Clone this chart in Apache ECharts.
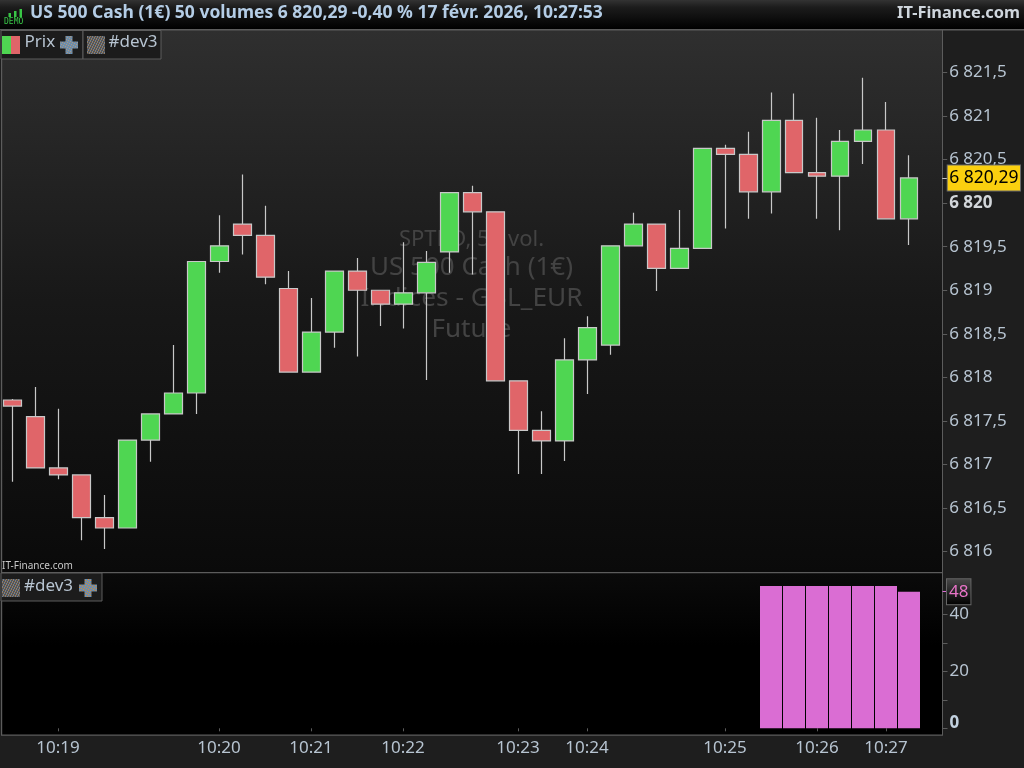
<!DOCTYPE html>
<html>
<head>
<meta charset="utf-8">
<style>html,body{margin:0;padding:0;background:#1e1e1e}#c{width:1024px;height:768px}</style>
<script src="https://cdn.jsdelivr.net/npm/echarts@6/dist/echarts.min.js"></script>
</head>
<body>
<div id="c"></div>
<script>
var categories = ['','','10:19','','','','','','','10:20','','','','10:21','','','','10:22','','','','','10:23','','','10:24','','','','','','10:25','','','','10:26','','','10:27','',''];
var opens  = [6817.74,6817.55,6816.96,6816.88,6816.39,6816.27,6817.28,6817.58,6817.82,6819.33,6819.76,6819.63,6819.02,6818.06,6818.52,6819.22,6819.00,6818.84,6818.97,6819.44,6820.12,6819.90,6817.96,6817.39,6817.27,6818.20,6818.37,6819.51,6819.76,6819.25,6819.48,6820.63,6820.56,6820.13,6820.95,6820.35,6820.31,6820.71,6820.84,6819.82];
var closes = [6817.67,6816.96,6816.88,6816.39,6816.27,6817.28,6817.58,6817.82,6819.33,6819.51,6819.63,6819.15,6818.06,6818.52,6819.22,6819.00,6818.84,6818.97,6819.32,6820.12,6819.90,6817.96,6817.39,6817.27,6818.20,6818.57,6819.51,6819.76,6819.25,6819.48,6820.63,6820.56,6820.13,6820.95,6820.35,6820.31,6820.71,6820.84,6819.82,6820.29];
var lows   = [6816.80,6816.96,6816.83,6816.13,6816.03,6816.27,6817.03,6817.58,6817.58,6819.20,6819.41,6819.07,6818.06,6818.06,6818.34,6818.24,6818.59,6818.56,6817.97,6819.20,6819.18,6817.96,6816.89,6816.89,6817.04,6817.81,6818.26,6819.51,6818.99,6819.25,6819.48,6819.71,6819.82,6819.88,6820.35,6819.82,6819.69,6820.45,6819.82,6819.52];
var highs  = [6817.75,6817.89,6817.64,6816.88,6816.65,6817.28,6817.58,6818.37,6819.33,6819.86,6820.33,6819.97,6819.22,6818.91,6819.22,6819.37,6819.00,6819.55,6819.45,6820.12,6820.20,6819.90,6817.96,6817.61,6818.45,6818.70,6819.51,6819.89,6819.76,6819.92,6820.63,6820.67,6820.82,6821.27,6821.26,6820.98,6820.84,6821.44,6821.16,6820.55];
var devValues = [null,null,null,null,null,null,null,null,null,null,null,null,null,null,null,null,null,null,null,null,null,null,null,null,null,null,null,null,null,null,null,null,null,50,50,50,50,50,50,48,null];
var priceTicks = [6816,6816.5,6817,6817.5,6818,6818.5,6819,6819.5,6820,6820.5,6821,6821.5];
var devTicks = [0,10,20,30,40];
var devLabels = [0,20,40];
var lastPrice = [6820.29];
var lastDev = [48];
var titleText = 'US 500 Cash (1€) 50 volumes 6 820,29 -0,40 % 17 févr. 2026, 10:27:53';
var watermark = ['SPTRD, 50 vol.','US 500 Cash (1€)','Indices - GBL_EUR','Future'];

var FONT = '"Noto Sans", sans-serif';
var LABEL = '#b7c4d1';
var GREEN = '#4fd652', RED = '#e06569', EDGE = '#c8c8c8', PINK = '#da6dd3', LINE = '#5c5c5c';

function fmtPrice(v){
  var s = Number.isInteger(v) ? String(v) : String(v).replace('.', ',');
  return s.charAt(0) + ' ' + s.slice(1);
}
function pattern(base, a, b){
  var c = document.createElement('canvas'); c.width = 5; c.height = 5;
  var g = c.getContext('2d');
  g.fillStyle = base; g.fillRect(0,0,5,5);
  [[0,0],[2,1],[4,2],[1,3],[3,4]].forEach(function(p){ g.fillStyle = a; g.fillRect(p[0],p[1],1,1); });
  [[3,0],[0,1],[2,2],[4,3],[1,4]].forEach(function(p){ g.fillStyle = b; g.fillRect(p[0],p[1],1,1); });
  return {image:c, repeat:'repeat'};
}
function vgrad(stops){ return new echarts.graphic.LinearGradient(0,0,0,1,stops.map(function(s){return {offset:s[0],color:s[1]};})); }
function rect(x,y,w,h,fill,z,stroke){ return {type:'rect',silent:true,z:z,shape:{x:x,y:y,width:w,height:h},style:{fill:fill,stroke:stroke||null,lineWidth:stroke?1:0}}; }
function txt(x,y,t,size,fill,z,opt){ opt=opt||{}; return {type:'text',silent:true,z:z,x:x,y:y,style:{text:t,fontFamily:opt.family||FONT,fontSize:size,fontWeight:opt.weight||'normal',fill:fill,align:opt.align||'left',verticalAlign:'middle'}}; }
function cross(x,y,fill,z){ return [rect(x,y+5.5,18,7,fill,z), rect(x+5.5,y,7,18,fill,z)]; }

var Z = 100;
var blue = pattern('#7d8b97','#5590c8','#9a9a98');
var orange = pattern('#7d8b97','#c98a48','#5590c8');
var grayDot = pattern('#565656','#6c8098','#9a7a58');
var elements = [
  rect(1,30,941.5,542,vgrad([[0,'#2f2f2f'],[0.5,'#181818'],[1,'#0a0a0a']]),-5),
  rect(1,573,941.5,162,vgrad([[0,'#0a0a0a'],[0.45,'#000000'],[1,'#000000']]),-5),
  rect(0,0,1024,29,vgrad([[0,'#333333'],[0.25,'#1c1c1c'],[1,'#000000']]),-5),
  rect(0,29,1024,1.5,LINE,-4),
  rect(1,572,942,1.2,LINE,-4),
  rect(1,734.6,942,1.2,LINE,-4),
  rect(1,30,1.2,705,LINE,-4),
  rect(942,30,1,705,LINE,-4)
];
watermark.forEach(function(t,i){
  elements.push(txt(471.5,[239.5,268,299,330][i],t,[22,26,26.3,26][i],'#434343',1,{align:'center'}));
});
elements = elements.concat([
  // header
  txt(30,13,titleText,17.5,'#b4cde6',Z,{weight:'bold'}),
  txt(1020,13,'IT-Finance.com',16.4,'#cfd6dd',Z,{weight:'bold',align:'right'}),
  rect(8.5,13,2.5,4,'#38c646',Z), rect(14,11,2.5,6,'#38c646',Z), rect(19.5,9,2.5,8,'#38c646',Z),
  txt(4,21.5,'DEMO',8,'#38c646',Z,{family:'"DejaVu Sans Mono", monospace'}),
  // main legend
  rect(1,30.5,82,28.5,'#1c1c1c',Z,LINE),
  rect(83,30.5,78,28.5,'#1c1c1c',Z,LINE),
  rect(2,36,9,18,GREEN,Z+1), rect(11,36,9,18,RED,Z+1),
  txt(24.5,42.5,'Prix',17,'#b7c4d1',Z+1),
  rect(87,36,18,18,grayDot,Z+1),
  txt(108.5,42.5,'#dev3',17,'#b7c4d1',Z+1),
  // indicator legend
  rect(1,573,101,28,'#1c1c1c',Z,LINE),
  rect(2,579,18,18,grayDot,Z+1),
  txt(24,586,'#dev3',17,'#b7c4d1',Z+1),
  txt(2,566,'IT-Finance.com',10,'#c8c8c8',Z)
]);
elements = elements.concat(cross(60,36,blue,Z+1)).concat(cross(79,579,orange,Z+1));

var candleData = opens.map(function(o,i){ return [o,closes[i],lows[i],highs[i]]; });
var xBase = {type:'category',data:categories,boundaryGap:true,axisPointer:{show:false}};

var chart = echarts.init(document.getElementById('c'),null,{width:1024,height:768,renderer:'canvas'});
chart.setOption({
  animation:false,
  backgroundColor:'#1e1e1e',
  textStyle:{fontFamily:FONT},
  graphic:{elements:elements},
  grid:[
    {left:1,top:30,width:943,height:542,containLabel:false},
    {left:0.5,top:573,width:943,height:162,containLabel:false}
  ],
  xAxis:[
    Object.assign({},xBase,{gridIndex:0,axisLine:{show:false},axisTick:{show:false},axisLabel:{show:false},splitLine:{show:false}}),
    Object.assign({},xBase,{gridIndex:1,
      axisLine:{show:false},
      axisTick:{show:true,length:3,alignWithLabel:true,interval:function(i,v){return v!=='';},lineStyle:{color:LINE}},
      axisLabel:{show:true,interval:function(i,v){return v!=='';},color:LABEL,fontSize:17,fontFamily:FONT,margin:5,hideOverlap:false},
      splitLine:{show:false}})
  ],
  yAxis:[
    {type:'value',gridIndex:0,position:'right',offset:-1.5,min:6815.765,max:6821.988,
      axisLine:{show:false},
      axisTick:{show:true,length:5,customValues:priceTicks,lineStyle:{color:LINE}},
      splitLine:{show:false},
      axisLabel:{show:true,customValues:priceTicks,margin:7,hideOverlap:false,showMinLabel:true,showMaxLabel:true,color:LABEL,fontSize:17,fontFamily:FONT,
        formatter:function(v){ return v===6820 ? '{b|'+fmtPrice(v)+'}' : fmtPrice(v); },
        rich:{b:{fontWeight:'bold',color:'#d2d6da',fontSize:17,fontFamily:FONT}}}},
    {type:'value',gridIndex:0,position:'right',offset:-1.5,min:6815.765,max:6821.988,
      axisLine:{show:false},
      axisTick:{show:true,length:5,customValues:lastPrice,lineStyle:{color:'#c8c8c8'}},
      splitLine:{show:false},
      axisLabel:{show:true,customValues:lastPrice,margin:5.5,hideOverlap:false,color:'#000000',fontSize:17.5,fontFamily:FONT,
        backgroundColor:'#fbd00f',borderColor:'#6a6a6a',borderWidth:1,padding:[3,1.5,4,1.5],
        formatter:function(v){ return fmtPrice(v); }}},
    {type:'value',gridIndex:1,position:'right',offset:-1,min:-2.35,max:54.57,
      axisLine:{show:false},
      axisTick:{show:true,length:5,customValues:devTicks,lineStyle:{color:LINE}},
      splitLine:{show:false},
      axisLabel:{show:true,customValues:devLabels,margin:7,hideOverlap:false,showMinLabel:true,color:LABEL,fontSize:17,fontFamily:FONT,
        formatter:function(v){ return v===0 ? '{z|0}' : String(v); },
        rich:{z:{fontWeight:'bold',color:'#c3d2e0',fontSize:17,padding:[0,0,11,0],fontFamily:FONT}}}},
    {type:'value',gridIndex:1,position:'right',offset:-1,min:-2.35,max:54.57,
      axisLine:{show:false},
      axisTick:{show:true,length:5,customValues:lastDev,lineStyle:{color:PINK}},
      splitLine:{show:false},
      axisLabel:{show:true,customValues:lastDev,margin:4.5,hideOverlap:false,color:'#e874c8',fontSize:17,fontFamily:FONT,
        backgroundColor:vgrad([[0,'#4a4a4a'],[1,'#000000']]),borderColor:'#666666',borderWidth:1,padding:[4,2,4,2],
        formatter:function(v){ return String(v); }}}
  ],
  series:[
    {type:'candlestick',name:'Prix',xAxisIndex:0,yAxisIndex:0,data:candleData,barWidth:18,
      itemStyle:{color:GREEN,color0:RED,borderColor:EDGE,borderColor0:EDGE,borderColorDoji:EDGE,borderWidth:1.2},
      emphasis:{disabled:true},z:3},
    {type:'bar',name:'#dev3',xAxisIndex:1,yAxisIndex:2,data:devValues,barWidth:22,
      itemStyle:{color:PINK,borderWidth:0},emphasis:{disabled:true},z:3}
  ]
});
</script>
</body>
</html>
